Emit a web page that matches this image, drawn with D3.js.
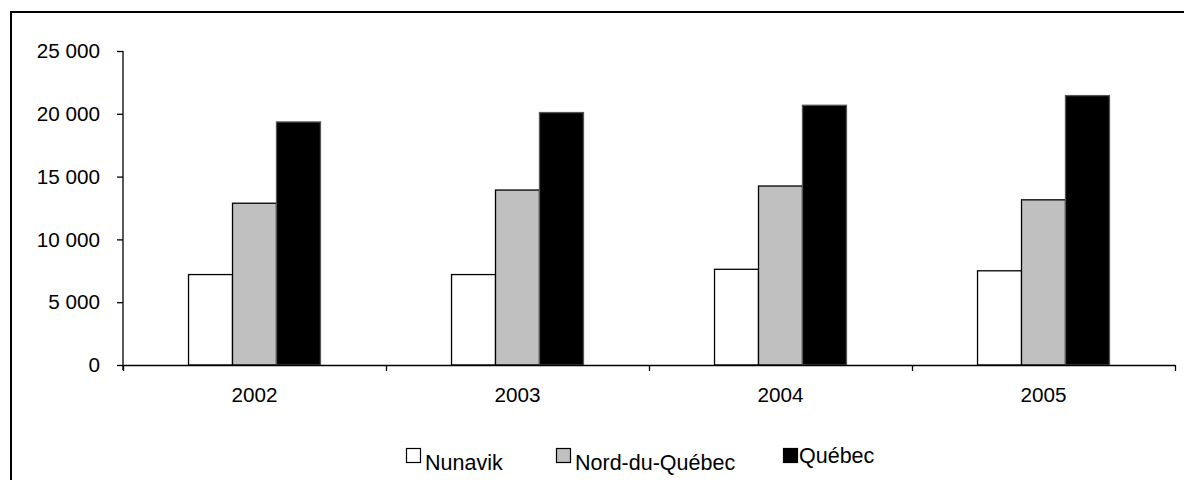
<!DOCTYPE html>
<html>
<head>
<meta charset="utf-8">
<script src="https://cdn.jsdelivr.net/npm/d3@7"></script>
<style>
  html, body { margin: 0; padding: 0; background: #fff; }
  svg { display: block; font-family: "Liberation Sans", Arial, sans-serif; }
</style>
</head>
<body>
<svg id="chart" width="1184" height="480"></svg>
<script>
// Years on the category axis
const years = ["2002", "2003", "2004", "2005"];
// Series names shown in the legend
const seriesNames = ["Nunavik", "Nord-du-Québec", "Québec"];
// Values per series, one per year
const nunavik = [7200, 7200, 7620, 7500];
const nordDuQuebec = [12880, 13930, 14250, 13150];
const quebec = [19350, 20100, 20680, 21450];
// Y axis tick values
const yTicks = [0, 5000, 10000, 15000, 20000, 25000];

const seriesValues = [nunavik, nordDuQuebec, quebec];
const fills = ["#ffffff", "#c0c0c0", "#000000"];

const svg = d3.select("#chart");
const W = 1184, H = 480;
const plot = { left: 123, right: 1175, top: 51, bottom: 365 };
const axisFont = 20.7;
const legendFont = 21.5;

// Outer frame
svg.append("rect")
  .attr("x", 11).attr("y", 12)
  .attr("width", W + 20).attr("height", H + 20)
  .attr("fill", "none").attr("stroke", "#000").attr("stroke-width", 2);

const x = d3.scaleBand().domain(years).range([plot.left, plot.right]).padding(0);
const xs = d3.scaleBand().domain(seriesNames).range([0, x.bandwidth()])
  .paddingInner(0).paddingOuter(1.49);
const y = d3.scaleLinear().domain([0, 25000]).range([plot.bottom, plot.top]);

const fmt = v => d3.format(",")(v).replace(/,/g, " ");

// Bars
const groups = svg.append("g").selectAll("g")
  .data(years).join("g")
  .attr("transform", d => `translate(${x(d)},0)`);

groups.selectAll("rect")
  .data((yr, i) => seriesNames.map((s, k) => ({ s, k, v: seriesValues[k][i] })))
  .join("rect")
  .attr("x", d => xs(d.s))
  .attr("y", d => y(d.v))
  .attr("width", xs.bandwidth())
  .attr("height", d => y(0) - y(d.v))
  .attr("fill", d => fills[d.k])
  .attr("stroke", d => d.k === 2 ? "#555" : "#000")
  .attr("stroke-width", 1.3);

// Y axis
const yAxis = svg.append("g")
  .attr("transform", `translate(${plot.left},0)`)
  .call(d3.axisLeft(y).tickValues(yTicks).tickFormat(fmt)
    .tickSize(6).tickSizeOuter(0).tickPadding(17));
yAxis.select(".domain").attr("d", `M0,${plot.top}V${plot.bottom + 5}`);
yAxis.selectAll("text").attr("font-size", axisFont).attr("fill", "#000")
  .attr("font-family", "Liberation Sans, Arial, sans-serif");
yAxis.selectAll("line, path").attr("stroke", "#000").attr("stroke-width", 1.3);

// X axis: boundary ticks between years
const xb = d3.scaleLinear().domain([0, years.length]).range([plot.left, plot.right]);
const xAxisTicks = svg.append("g")
  .attr("transform", `translate(0,${plot.bottom})`)
  .call(d3.axisBottom(xb).tickValues(d3.range(years.length + 1))
    .tickFormat("").tickSize(6).tickSizeOuter(0));
xAxisTicks.selectAll("line, path").attr("stroke", "#000").attr("stroke-width", 1.3);

// X axis: year labels centred under each group
const xAxisLabels = svg.append("g")
  .attr("transform", `translate(0,${plot.bottom})`)
  .call(d3.axisBottom(x).tickSize(0).tickPadding(22.5));
xAxisLabels.select(".domain").remove();
xAxisLabels.selectAll("text").attr("font-size", axisFont).attr("fill", "#000")
  .attr("font-family", "Liberation Sans, Arial, sans-serif");

// Legend
const legendX = [406, 556, 783];
const legendTextDx = [19, 19, 16];
const legendTextDy = [0, 0, -7];
const legend = svg.append("g").selectAll("g")
  .data(seriesNames).join("g")
  .attr("transform", (d, i) => `translate(${legendX[i]},448)`);
legend.append("rect")
  .attr("x", 0.5).attr("y", 0.5).attr("width", 14).attr("height", 14)
  .attr("fill", (d, i) => fills[i]).attr("stroke", "#000").attr("stroke-width", 1.2);
legend.append("text")
  .attr("x", (d, i) => legendTextDx[i]).attr("y", (d, i) => 22 + legendTextDy[i])
  .attr("font-size", legendFont).attr("fill", "#000")
  .text(d => d);
</script>
</body>
</html>
